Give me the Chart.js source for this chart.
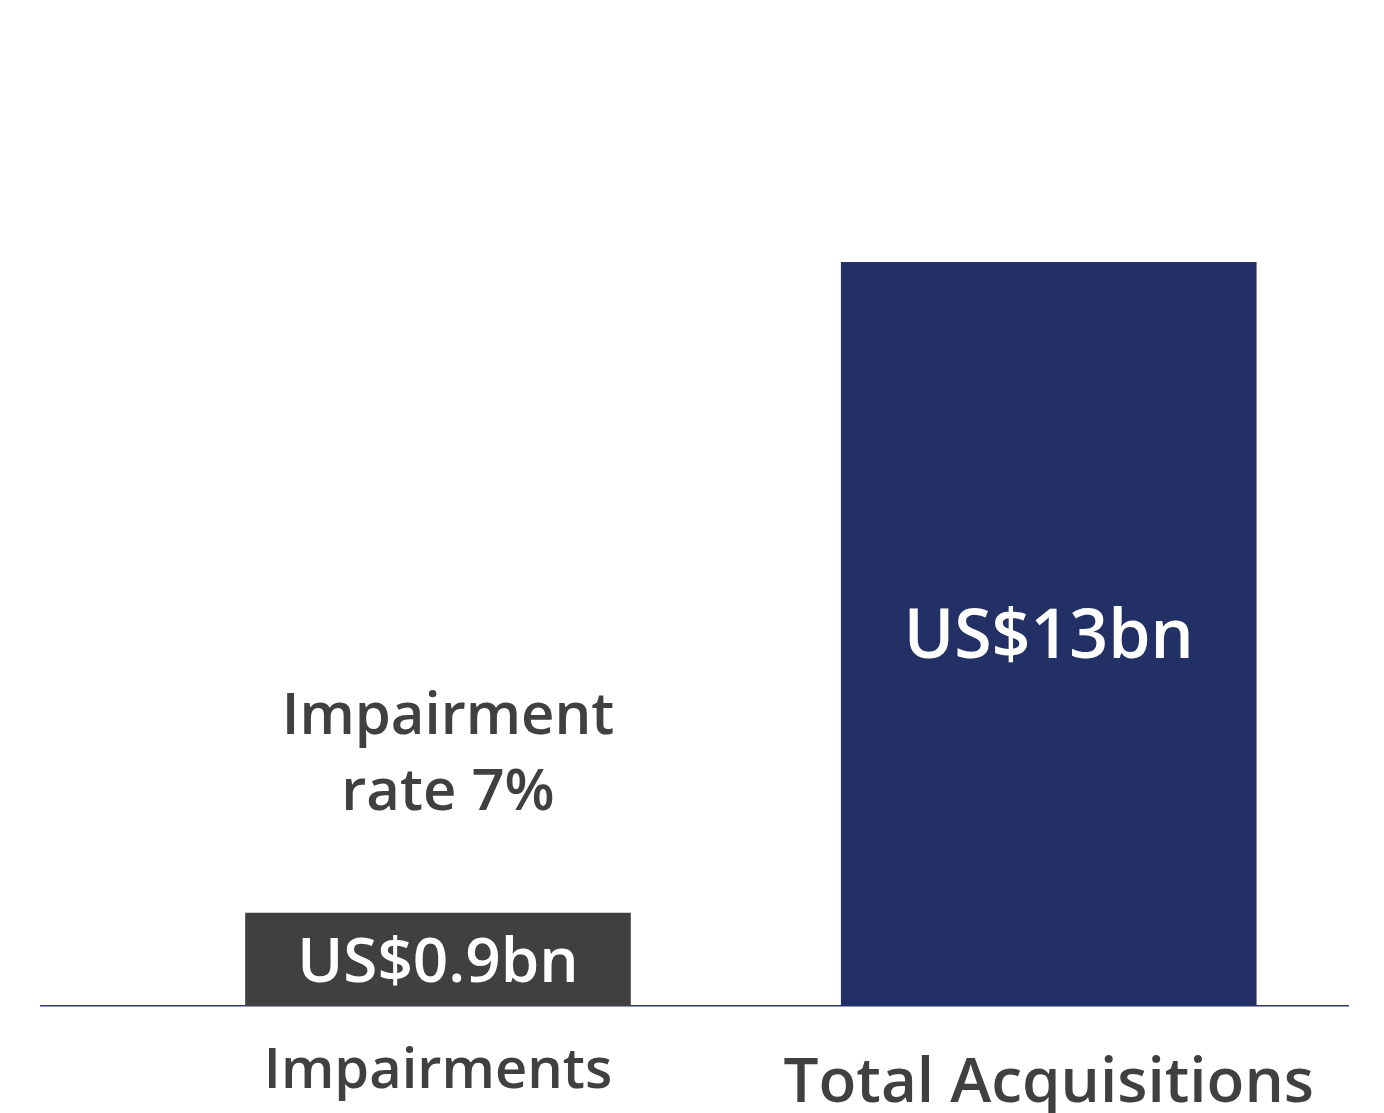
<!DOCTYPE html>
<html>
<head>
<meta charset="utf-8">
<title>Impairments vs Total Acquisitions</title>
<script src="https://cdn.jsdelivr.net/npm/chart.js@4/dist/chart.umd.min.js"></script>
<style>
  html, body { margin: 0; padding: 0; background: #ffffff; }
  #wrap { width: 1384px; height: 1113px; }
</style>
</head>
<body>
<div id="wrap"><canvas id="chart" width="1384" height="1113"></canvas></div>
<script>
// Data
const categories = ['Impairments', 'Total Acquisitions'];
const values = [0.9, 13];                       // US$ bn
const valueLabels = ['US$0.9bn', 'US$13bn'];
const noteLines = ['Impairment', 'rate 7%'];

// Styling
const FONT = "'Open Sans', 'Noto Sans', sans-serif";
const WEIGHT = '600';
const TEXT_COLOR = '#404040';
const barColors = ['#404040', '#233065'];
const barWidths = [385, 415];
const valueFontSizes = [62, 68];
const categoryFontSizes = [56, 62];
const categoryLineHeights = [1.2, 1.49];

// Value labels inside the bars plus the rate note above the first bar
const barLabels = {
  id: 'barLabels',
  afterDatasetsDraw(chart) {
    const ctx = chart.ctx;
    ctx.save();
    ctx.textAlign = 'center';
    ctx.textBaseline = 'alphabetic';
    chart.data.datasets.forEach((ds, i) => {
      const bar = chart.getDatasetMeta(i).data[0];
      const size = valueFontSizes[i];
      ctx.font = `${WEIGHT} ${size}px ${FONT}`;
      ctx.fillStyle = '#ffffff';
      const mid = (bar.y + bar.base) / 2;
      ctx.fillText(valueLabels[i], bar.x, mid + size * 0.357);
    });
    const first = chart.getDatasetMeta(0).data[0];
    ctx.font = `${WEIGHT} 58px ${FONT}`;
    ctx.fillStyle = TEXT_COLOR;
    ctx.fillText(noteLines[0], first.x + 10, first.y - 179);
    ctx.fillText(noteLines[1], first.x + 10, first.y - 103);
    ctx.restore();
  }
};

const datasets = categories.map((name, i) => ({
  label: name,
  data: [{ x: i + 1, y: values[i] }],
  backgroundColor: barColors[i],
  barThickness: barWidths[i],
  minBarLength: 93,
  grouped: false
}));

new Chart(document.getElementById('chart'), {
  type: 'bar',
  data: { datasets },
  options: {
    responsive: false,
    animation: false,
    layout: { padding: { left: 41, right: 36, top: 262, bottom: 0 } },
    plugins: {
      legend: { display: false },
      tooltip: { enabled: false }
    },
    scales: {
      x: {
        type: 'linear',
        offset: false,
        min: 0.35,
        max: 2.49,
        afterBuildTicks: (scale) => { scale.ticks = categories.map((_, i) => ({ value: i + 1 })); },
        afterFit: (scale) => { scale.height = 107; },
        grid: { display: false, drawTicks: false },
        border: { display: true, color: '#2b3775', width: 1.5 },
        ticks: {
          color: TEXT_COLOR,
          padding: 32,
          maxRotation: 0,
          autoSkip: false,
          font: (ctx) => ({
            family: FONT,
            weight: WEIGHT,
            size: categoryFontSizes[ctx.index] || 56,
            lineHeight: categoryLineHeights[ctx.index] || 1.2
          }),
          callback: (v) => categories[v - 1]
        }
      },
      y: {
        display: false,
        min: 0,
        max: 13
      }
    }
  },
  plugins: [barLabels]
});
</script>
</body>
</html>
